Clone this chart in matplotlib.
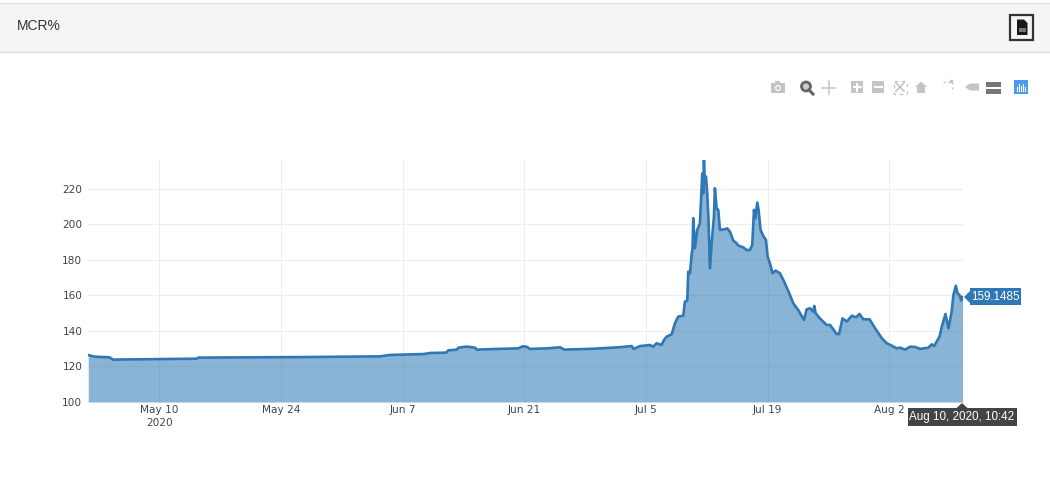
import pandas as pd
import matplotlib
matplotlib.use("Agg")
import matplotlib.pyplot as plt
from matplotlib.patches import Rectangle, Polygon, Circle

W, H = 1050, 484

# days after 2020-05-01
days = [0.8, 1.57, 3.22, 3.68, 4.07, 13.28, 13.47, 25.18, 34.39, 35.54, 39.38, 40.15, 41.99, 42.26,
        43.22, 43.41, 44.37, 45.33, 45.52, 47.82, 50.32, 50.82, 51.35, 51.58, 53.58, 55.12, 55.62,
        58.95, 61.83, 63.37, 63.56, 64.33, 65.46, 65.84, 66.23, 66.80, 67.07, 67.38, 67.96, 68.34,
        68.72, 69.30, 69.49, 69.76, 69.87, 70.07, 70.26, 70.37, 70.45, 70.64, 70.91, 71.22, 71.37,
        71.49, 71.60, 71.68, 71.79, 71.91, 72.06, 72.22, 72.37, 72.60, 72.83, 72.94, 73.14, 73.33,
        73.52, 74.10, 74.36, 74.67, 75.06, 75.44, 75.63, 76.21, 76.59, 76.97, 77.24, 77.44, 77.59,
        77.82, 77.97, 78.20, 78.59, 78.82, 79.01, 79.28, 79.58, 79.93, 80.43, 81.0, 81.58, 81.96,
        82.54, 83.19, 83.5, 83.88, 84.27, 84.38, 84.54, 85.03, 85.80, 86.2, 86.97, 87.24, 87.63,
        88.13, 88.7, 89.2, 89.58, 90.04, 90.74, 91.39, 92.16, 92.73, 93.31, 93.88, 94.27, 94.84,
        95.42, 96.0, 96.57, 97.53, 97.91, 98.18, 98.8, 99.06, 99.49, 99.83, 100.2, 100.4, 100.68,
        100.87, 101.1, 101.3, 101.446]
mcr = [126.4, 125.5, 125.2, 123.8, 123.9, 124.4, 125.0, 125.3, 125.7, 126.5, 127.0, 127.6, 127.8, 129.1,
       129.5, 130.6, 131.2, 130.6, 129.5, 129.9, 130.2, 131.4, 131.0, 129.9, 130.2, 130.8, 129.5,
       130.0, 130.8, 131.5, 129.9, 131.5, 132.1, 131.2, 133.1, 132.1, 134.9, 136.8, 138.1, 144.3,
       148.1, 148.6, 156.5, 157.1, 173.4, 172.5, 182.8, 186.6, 203.5, 186.6, 196.9, 200.7, 216.6,
       228.8, 217.6, 236.3, 223.2, 227.0, 217.6, 200.7, 175.3, 191.3, 204.4, 220.4, 209.1, 208.2,
       196.9, 197.3, 197.8, 196.0, 190.9, 189.4, 188.1, 187.1, 185.6, 185.6, 188.5, 208.2, 203.5,
       212.3, 208.2, 196.9, 192.8, 191.3, 181.9, 178.1, 172.5, 174.0, 172.5, 166.9, 160.3, 155.6,
       151.8, 146.2, 152.2, 152.8, 150.9, 154.1, 150.0, 147.1, 143.4, 143.4, 138.3, 138.3, 147.1,
       145.3, 148.6, 147.7, 149.6, 146.6, 146.6, 141.5, 135.9, 133.1, 131.7, 130.2, 130.6, 129.5,
       131.2, 131.0, 129.9, 130.6, 132.5, 131.5, 136.8, 142.4, 149.6, 141.5, 150.9, 160.3, 165.5,
       161.2, 160.3, 157.1, 159.1485]

x_ticks = ["2020-05-10", "2020-05-24", "2020-06-07", "2020-06-21", "2020-07-05", "2020-07-19", "2020-08-02"]
x_labels = ["May 10\n2020", "May 24", "Jun 7", "Jun 21", "Jul 5", "Jul 19", "Aug 2"]
y_ticks = [100, 120, 140, 160, 180, 200, 220]

start = pd.Timestamp("2020-05-01")
dates = start + pd.to_timedelta(days, unit="D")

fig = plt.figure(figsize=(W / 100, H / 100), dpi=100)

# page layer in pixel coordinates, for the header and the toolbar
page = fig.add_axes([0, 0, 1, 1], zorder=0)
page.set_xlim(0, W)
page.set_ylim(H, 0)
page.axis("off")

page.add_patch(Rectangle((0, 3), W, 49, fc="#f5f5f5", ec="none"))
page.plot([0, W], [3, 3], color="#e2e2e2", lw=1)
page.plot([0, W], [52, 52], color="#dddddd", lw=1)
page.text(16.5, 25.5, "MCR%", fontsize=10, color="#333333", family="Liberation Sans", va="center")

# csv button
page.add_patch(Rectangle((1010, 15), 23, 25, fc="none", ec="#333333", lw=1.6))
page.add_patch(Polygon([(1017, 19.5), (1024, 19.5), (1027.5, 23), (1027.5, 35), (1017, 35)], fc="#1a1a1a", ec="none"))
page.add_patch(Rectangle((1018.5, 28), 7.5, 3.5, fc="#777777", ec="none"))

# modebar icons
grey = "#c4c4c4"
page.add_patch(Rectangle((771, 83), 14, 10, fc=grey, ec="none"))
page.add_patch(Rectangle((775, 81), 5, 3, fc=grey, ec="none"))
page.add_patch(Circle((778, 88), 3, fc="white", ec="none"))
page.add_patch(Circle((778, 88), 1.8, fc=grey, ec="none"))
page.add_patch(Circle((806, 86.5), 4.5, fc="#cfcfcf", ec="#666666", lw=2))
page.plot([809, 813], [90, 94], color="#666666", lw=2.2)
page.plot([822, 835], [87.5, 87.5], color=grey, lw=1.1)
page.plot([828.5, 828.5], [81, 94], color=grey, lw=1.1)
page.add_patch(Rectangle((851, 81), 12, 12, fc=grey, ec="none"))
page.plot([853.5, 860.5], [87, 87], color="white", lw=1.5)
page.plot([857, 857], [83.5, 90.5], color="white", lw=1.5)
page.add_patch(Rectangle((872, 81), 12, 12, fc=grey, ec="none"))
page.plot([874.5, 881.5], [87, 87], color="white", lw=1.5)
page.plot([896, 904], [83, 91], color=grey, lw=1.2)
page.plot([904, 896], [83, 91], color=grey, lw=1.2)
page.add_patch(Rectangle((893.5, 80.5), 13, 13, fc="none", ec=grey, lw=0.9, ls=(0, (3, 3))))
page.add_patch(Polygon([(915, 87), (921, 81.5), (927, 87), (925, 87), (925, 93), (917, 93), (917, 87)], fc=grey, ec="none"))
page.plot([943, 952], [81.5, 81.5], color=grey, lw=1, ls=(0, (1.5, 2)))
page.plot([951.5, 951.5], [82, 92], color=grey, lw=1, ls=(0, (1.5, 2)))
page.add_patch(Circle((951.5, 81.5), 1.8, fc=grey, ec="none"))
page.add_patch(Polygon([(965, 87), (970, 83.5), (979, 83.5), (979, 90.5), (970, 90.5)], fc=grey, ec="none"))
page.add_patch(Rectangle((986, 82), 14.5, 5, fc="#777777", ec="none"))
page.add_patch(Rectangle((986, 89), 14.5, 5, fc="#777777", ec="none"))
page.add_patch(Rectangle((1014, 80), 14, 14, fc="#4a9bf0", ec="none"))
for i, h in enumerate([4, 7, 5, 7, 4]):
    page.plot([1017 + 2 * i] * 2, [91, 91 - h], color="white", lw=0.8)

# main chart, placed by pixel edges
left, right, top, bottom = 88, 962.5, 160, 402
ax = fig.add_axes([left / W, 1 - bottom / H, (right - left) / W, (bottom - top) / H], zorder=1)
ax.patch.set_alpha(0)

ax.fill_between(dates, mcr, 100, color="#1f6fb0", alpha=0.52, lw=0, zorder=2)
ax.plot(dates, mcr, color="#2f78b5", lw=1.9, solid_joinstyle="round", zorder=3)

ax.set_xlim(start + pd.Timedelta(days=0.77), start + pd.Timedelta(days=101.446))
ax.set_ylim(100, 236.3)
ax.set_xticks(pd.to_datetime(x_ticks))
ax.set_xticklabels(x_labels)
ax.set_yticks(y_ticks)
ax.tick_params(length=0, labelsize=7.6, labelcolor="#444444")
ax.tick_params(axis="x", pad=2)
ax.tick_params(axis="y", pad=4)
ax.grid(True, color="#eeeeee", lw=0.8, zorder=1)
ax.set_axisbelow(True)
for s in ax.spines.values():
    s.set_visible(False)
for lab in ax.get_xticklabels():
    lab.set_linespacing(1.35)

# hover labels, on top of everything
over = fig.add_axes([0, 0, 1, 1], zorder=2)
over.set_xlim(0, W)
over.set_ylim(H, 0)
over.axis("off")
over.patch.set_alpha(0)

over.add_patch(Polygon([(964, 297), (970, 291), (970, 303)], fc="#2f78b5", ec="none"))
over.add_patch(Rectangle((970, 288), 51, 17, fc="#2f78b5", ec="none"))
over.text(995.5, 296.5, "159.1485", fontsize=8.4, color="white", family="Liberation Sans", ha="center", va="center")

over.add_patch(Polygon([(962, 403), (956, 408.5), (968, 408.5)], fc="#444444", ec="none"))
over.add_patch(Rectangle((907.5, 408), 109, 18, fc="#444444", ec="none"))
over.text(962, 417, "Aug 10, 2020, 10:42", fontsize=8.4, color="white", family="Liberation Sans", ha="center", va="center")

fig.savefig("out.png", dpi=100)
